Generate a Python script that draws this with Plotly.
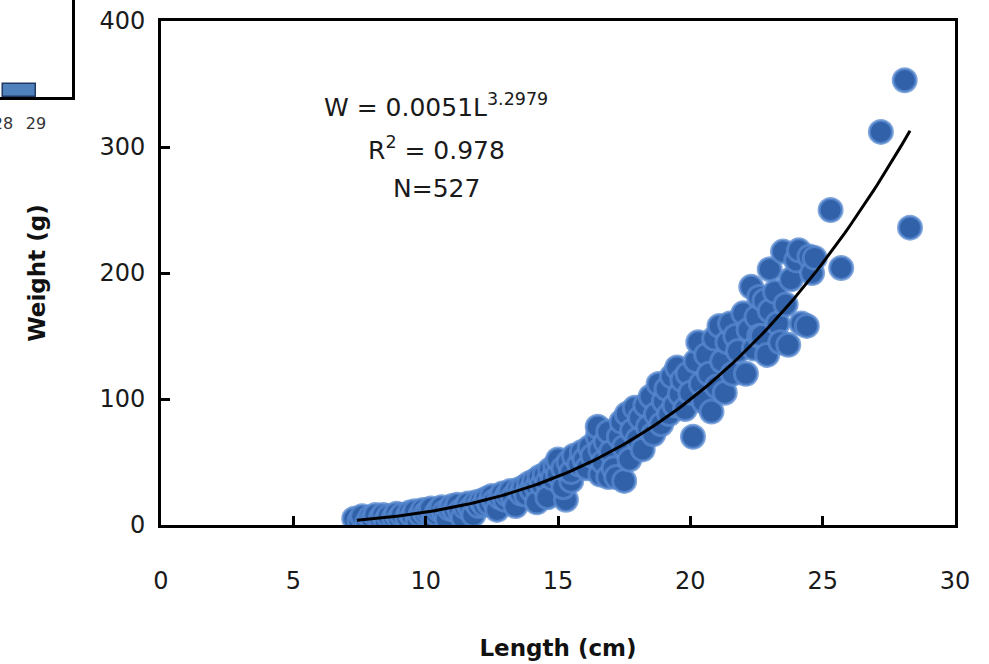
import numpy as np
import plotly.graph_objects as go

# ---------------- data ----------------
length_cm = [
    7.3, 7.5, 7.6, 7.8, 7.9, 8.0, 8.1,
    8.3, 8.4, 8.5, 8.6, 8.8, 8.9, 9.0,
    9.1, 9.3, 9.4, 9.5, 9.6, 9.7, 9.8, 9.9, 10.0,
    10.1, 10.2, 10.3, 10.4, 10.5, 10.6, 10.7, 10.8, 10.9, 11.0,
    11.1, 11.2, 11.3, 11.4, 11.5, 11.6, 11.7, 11.8, 11.9, 12.0,
    12.1, 12.2, 12.3, 12.4, 12.5, 12.6, 12.7, 12.8, 12.9, 13.0,
    13.1, 13.2, 13.3, 13.4, 13.5, 13.6, 13.7, 13.8, 13.9, 14.0,
    14.1, 14.2, 14.2, 14.3, 14.4, 14.5, 14.6, 14.6, 14.7, 14.8, 14.9, 15.0, 15.0,
    15.3, 15.2, 15.5,
    15.2, 15.4, 15.5, 15.6, 15.8, 15.9, 16.0, 16.1,
    16.2, 16.3, 16.5, 16.5, 16.6, 16.6, 16.7, 16.8, 16.9, 16.9, 17.0,
    17.1, 17.2, 17.3, 17.4, 17.5, 17.5, 17.6, 17.7, 17.8, 17.9, 18.0,
    18.1, 18.2, 18.3, 18.4, 18.5, 18.6, 18.7, 18.8, 18.9, 19.0,
    19.1, 19.2, 19.3, 19.4, 19.5, 19.6, 19.7, 19.8, 19.9, 20.1, 20.0,
    20.2, 20.3, 20.4, 20.5, 20.6, 20.7, 20.8, 20.9, 21.0,
    21.1, 21.2, 21.3, 21.4, 21.5, 21.6, 21.7, 21.8, 22.0,
    22.1, 22.2, 22.3, 22.4, 22.5, 22.6, 22.6, 22.7, 22.8, 22.9, 23.0, 23.0,
    23.2, 23.3, 23.4, 23.5, 23.6, 23.7, 23.8, 24.0, 24.1, 24.2, 24.4, 24.5, 24.6, 24.7,
    25.3, 25.7, 27.2, 28.1, 28.3,
]
weight_g = [
    5, 3, 7, 2, 6, 4, 8,
    5, 8, 3, 7, 6, 9, 5,
    8, 6, 10, 7, 11, 3, 8, 12, 9,
    11, 13, 4, 9, 12, 14, 10, 5, 13, 15,
    12, 16, 11, 6, 14, 17, 13, 8, 18, 15,
    19, 16, 21, 17, 23, 19, 12, 22, 25, 20,
    24, 27, 22, 15, 28, 25, 30, 24, 33, 28,
    35, 30, 18, 38, 32, 40, 34, 22, 44, 37, 47, 40, 52,
    20, 30, 35,
    45, 50, 42, 55, 48, 58, 52, 45,
    62, 55, 70, 78, 60, 40, 50, 66, 74, 38, 58,
    45, 38, 70, 82, 62, 35, 88, 52, 75, 93, 68,
    85, 60, 95, 78, 102, 72, 88, 112, 80, 98,
    108, 88, 118, 95, 125, 104, 115, 92, 120, 70, 105,
    130, 145, 112, 98, 135, 120, 90, 148, 110,
    158, 130, 105, 145, 160, 120, 150, 138, 168,
    120, 155, 189, 140, 165, 181, 150, 150, 178, 135, 203, 170,
    185, 160, 145, 217, 175, 143, 195, 210, 218, 160, 158, 213, 200, 212,
    250, 204, 312, 353, 236,
]

# fitted power model shown on the chart: W = a * L^b
fit_a = 0.0051
fit_b = 3.2979
fit_l_start = 7.4
fit_l_end = 28.3
fit_label = "W = 0.0051L<sup>3.2979</sup>"
r2_label = "R<sup>2</sup> = 0.978"
n_label = "N=527"

x_ticks = [0, 5, 10, 15, 20, 25, 30]
y_ticks = [0, 100, 200, 300, 400]

# fragment of a neighbouring histogram (top-left corner of the picture)
inset_centers = [28.5]
inset_counts = [4]
inset_ticks = [28, 29]

# ---------------- figure ----------------
W, H = 989, 664
plot_l, plot_r, plot_t, plot_b = 161, 955, 21, 525

fit_l = np.linspace(fit_l_start, fit_l_end, 120)
fit_w = fit_a * fit_l ** fit_b

font_main = "DejaVu Sans"

fig = go.Figure()

fig.add_trace(go.Scatter(
    x=length_cm, y=weight_g, mode="markers",
    marker=dict(size=23, color="#3162a9",
                line=dict(width=3, color="rgba(88,138,208,0.75)")),
    showlegend=False, hoverinfo="x+y",
))
fig.add_trace(go.Scatter(
    x=fit_l, y=fit_w, mode="lines",
    line=dict(color="black", width=3),
    showlegend=False, hoverinfo="skip",
))

fig.add_trace(go.Bar(
    x=inset_centers, y=inset_counts, width=1.0,
    marker=dict(color="#4f81bd", line=dict(color="#1f3864", width=1.5)),
    xaxis="x2", yaxis="y2", showlegend=False,
))

for txt, yv in [(fit_label, 333), (r2_label, 299), (n_label, 267)]:
    fig.add_annotation(x=10.4, y=yv, xref="x", yref="y", text=txt,
                       showarrow=False,
                       font=dict(family=font_main, size=25, color="#1a1a1a"))

fig.update_layout(
    width=W, height=H,
    margin=dict(l=0, r=0, t=0, b=0, autoexpand=False),
    template="none",
    paper_bgcolor="white", plot_bgcolor="white",
    font=dict(family=font_main, color="#1a1a1a"),
    xaxis=dict(
        domain=[plot_l / W, plot_r / W],
        range=[0, 30], tickvals=x_ticks, ticks="inside", ticklen=9,
        tickwidth=3, tickcolor="black",
        showline=True, linewidth=3, linecolor="black", mirror=True,
        showgrid=False, zeroline=False, automargin=False,
        tickfont=dict(size=24, family=font_main, color="#1a1a1a"),
        ticklabelstandoff=32,
        title=dict(text="<b>Length (cm)</b>", standoff=47,
                   font=dict(size=23, family=font_main, color="#111")),
    ),
    yaxis=dict(
        domain=[(H - plot_b) / H, (H - plot_t) / H],
        range=[0, 400], tickvals=y_ticks, ticks="inside", ticklen=9,
        tickwidth=3, tickcolor="black",
        showline=True, linewidth=3, linecolor="black", mirror=True,
        showgrid=False, zeroline=False, automargin=False,
        tickfont=dict(size=24, family=font_main, color="#1a1a1a"),
        ticklabelstandoff=8,
        title=dict(text="<b>Weight (g)</b>", standoff=48,
                   font=dict(size=23, family=font_main, color="#111")),
    ),
    xaxis2=dict(
        domain=[0, 72 / W], anchor="y2",
        range=[27.91, 30.09], tickvals=inset_ticks, ticks="",
        showline=True, linewidth=2.5, linecolor="black",
        showgrid=False, zeroline=False, automargin=False,
        ticklabeloverflow="allow", ticklabelstandoff=10,
        tickfont=dict(size=16, family=font_main, color="#333"),
    ),
    yaxis2=dict(
        domain=[(H - 97) / H, 1.0], anchor="x2", side="right",
        range=[0, 30], showticklabels=False, ticks="",
        showline=True, linewidth=2.5, linecolor="black",
        showgrid=False, zeroline=False, automargin=False,
    ),
    bargap=0,
)

fig.write_html(
    "out.html",
    config={"displayModeBar": False},
    post_script="document.body.style.margin='0';document.body.style.overflow='hidden';",
)
